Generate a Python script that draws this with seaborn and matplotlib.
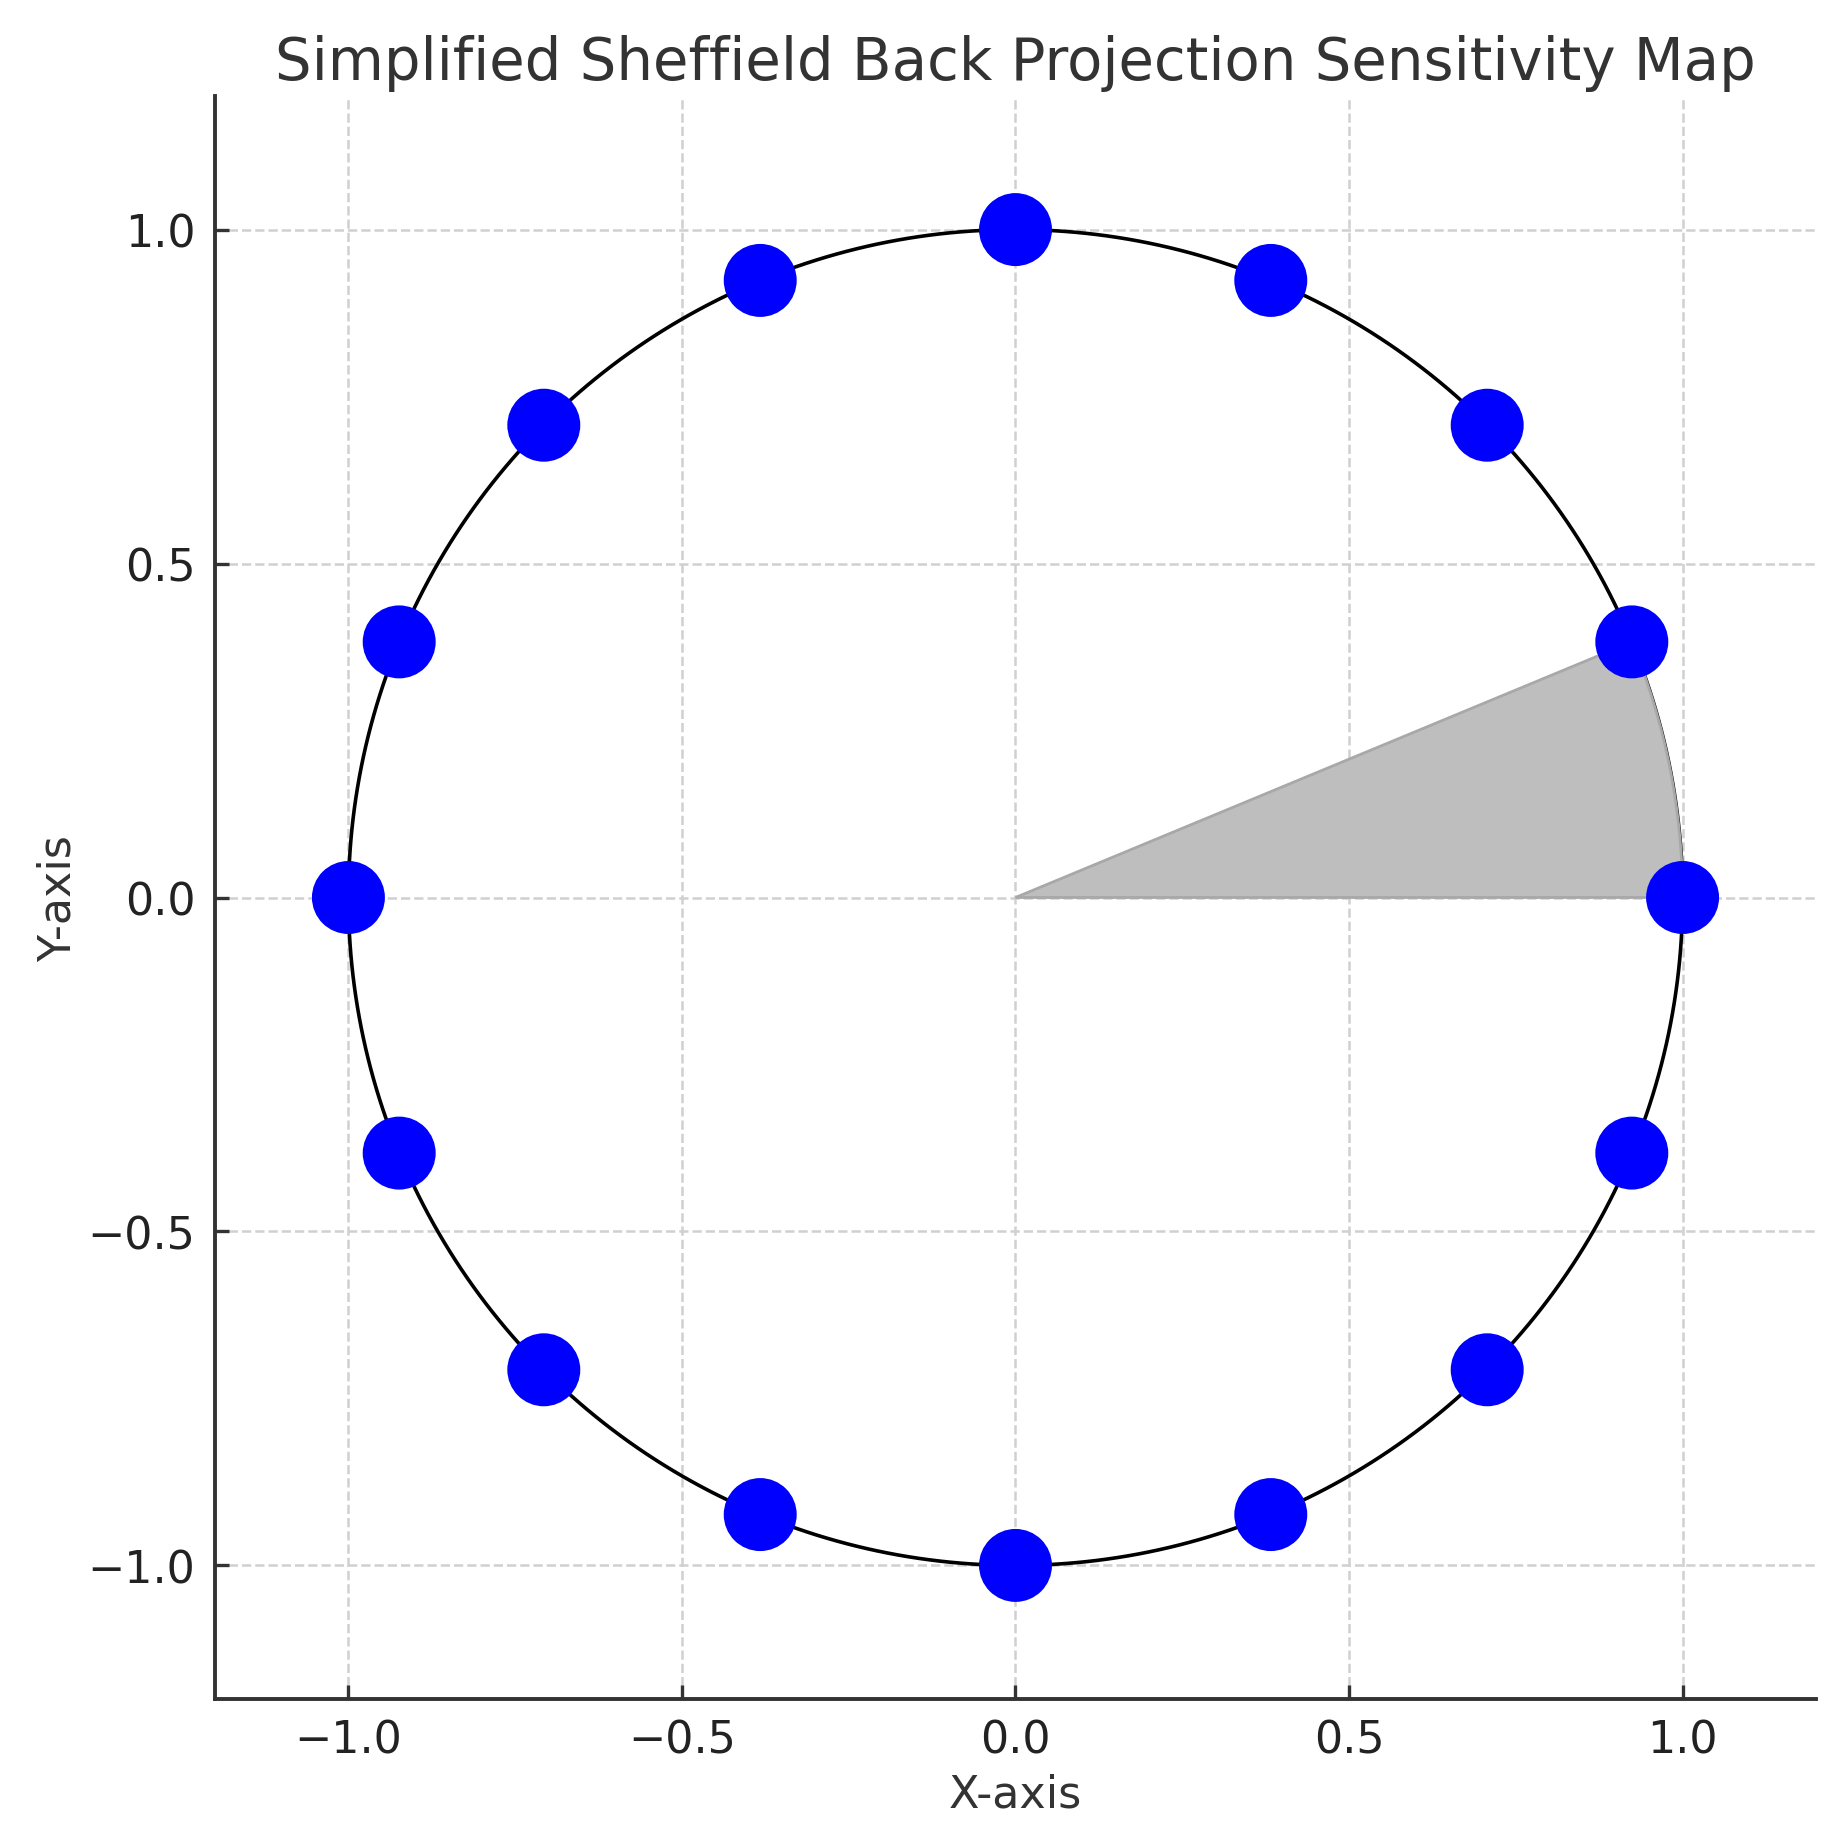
import numpy as np
import pandas as pd
import matplotlib
matplotlib.use("Agg")
import matplotlib.pyplot as plt
from matplotlib.patches import Wedge
import seaborn as sns

# Electrode angles (degrees) around the unit circle
electrode_angles_deg = [0, 22.5, 45, 67.5, 90, 112.5, 135, 157.5,
                        180, 202.5, 225, 247.5, 270, 292.5, 315, 337.5]
electrode_radius = 1.0
# Highlighted sensitivity sector (degrees)
sector_start_deg = 0
sector_end_deg = 22.5

title = "Simplified Sheffield Back Projection Sensitivity Map"
xlabel = "X-axis"
ylabel = "Y-axis"
ticks = [-1.0, -0.5, 0.0, 0.5, 1.0]

sns.set_theme(style="ticks")
plt.rcParams['font.family'] = ['DejaVu Sans']

dpi = 200
fig = plt.figure(figsize=(1849 / dpi, 1831 / dpi), dpi=dpi)
ax = fig.add_axes([215 / 1849, 1 - 1700 / 1831, (1816 - 215) / 1849, (1700 - 97) / 1831])

# boundary circle
theta = np.linspace(0, 2 * np.pi, 400)
circ = pd.DataFrame({"x": electrode_radius * np.cos(theta),
                     "y": electrode_radius * np.sin(theta)})
sns.lineplot(data=circ, x="x", y="y", sort=False, estimator=None, errorbar=None,
             color="black", linewidth=1.3, ax=ax)

# sensitivity sector
ax.add_patch(Wedge((0, 0), electrode_radius, sector_start_deg, sector_end_deg,
                   facecolor="#bebebe", edgecolor="#a8a8a8", linewidth=1.0, zorder=2))

# electrodes
ang = np.deg2rad(electrode_angles_deg)
elec = pd.DataFrame({"x": electrode_radius * np.cos(ang), "y": electrode_radius * np.sin(ang)})
sns.scatterplot(data=elec, x="x", y="y", s=690, color="#0000ff", edgecolor="none", ax=ax, zorder=3)

ax.set_xlim(-1.2, 1.2)
ax.set_ylim(-1.2, 1.2)
ax.set_xticks(ticks)
ax.set_yticks(ticks)
ax.grid(True, linestyle="--", color="#d0d0d0", linewidth=0.9)
ax.set_axisbelow(True)
sns.despine(ax=ax)
for s in ["left", "bottom"]:
    ax.spines[s].set_color("#333333")
    ax.spines[s].set_linewidth(1.4)
ax.tick_params(direction="in", length=5, width=1.2, color="#333333",
               labelsize=16, labelcolor="#222222", pad=7)
ax.set_title(title, fontsize=20.8, color="#333333", pad=6)
ax.set_xlabel(xlabel, fontsize=16, color="#333333", labelpad=4)
ax.set_ylabel(ylabel, fontsize=16, color="#333333", labelpad=3)

fig.savefig("out.png", dpi=dpi)
